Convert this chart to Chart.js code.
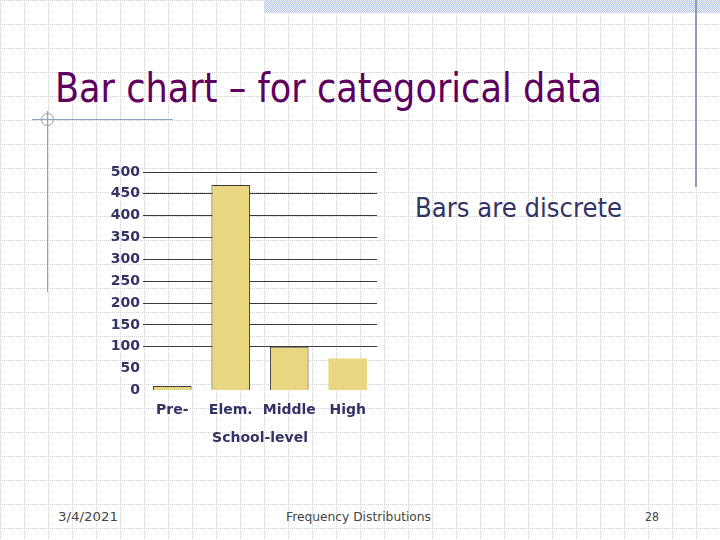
<!DOCTYPE html>
<html>
<head>
<meta charset="utf-8">
<script src="https://cdn.jsdelivr.net/npm/chart.js@4"></script>
<style>
  html, body { margin: 0; padding: 0; }
  body {
    width: 720px; height: 540px; position: relative; overflow: hidden;
    background: #fff url("data:image/svg+xml;utf8,<svg xmlns='http://www.w3.org/2000/svg' width='24' height='24'><path d='M0.5 0V24M0 0.5H24' stroke='%23cfcfcf' stroke-dasharray='1 1'/></svg>");
    font-family: 'DejaVu Sans', sans-serif;
  }
  .abs { position: absolute; white-space: nowrap; transform-origin: 0 0; }
  #band { left: 264px; top: 0; width: 456px; height: 13px;
    background: repeating-conic-gradient(#b9c8e6 0 25%, #eef2fa 0 50%) 0 0 / 2px 2px; }
  #rline { left: 695px; top: 0; width: 2px; height: 187px; background: #8f9bbd; }
  #hline { left: 32px; top: 119px; width: 141px; height: 1px; background: #8fa0c8; }
  #vline { left: 47px; top: 111px; width: 1px; height: 181px; background: #8fa0c8; }
  #circ { left: 41px; top: 113px; width: 13px; height: 13px; border: 1px solid #8fa0c8; border-radius: 50%; box-sizing: border-box; }
  #title { left: 55px; top: 64px; font-size: 41px; line-height: 48px; color: #5e0060; }
  #note { left: 415px; top: 192px; font-size: 26px; line-height: 32px; color: #333366; }
  .foot { top: 508px; font-size: 13px; line-height: 18px; color: #444; }
  #chartbox { position: absolute; left: 90px; top: 160px; }
</style>
</head>
<body>
<div id="band" class="abs"></div>
<div id="rline" class="abs"></div>
<div id="hline" class="abs"></div>
<div id="vline" class="abs"></div>
<div id="circ" class="abs"></div>
<div id="title" class="abs" data-w="547">Bar chart – for categorical data</div>
<div id="note" class="abs" data-w="207">Bars are discrete</div>
<div id="f1" class="abs foot" style="left:58px" data-w="60">3/4/2021</div>
<div id="f2" class="abs foot" style="left:286px" data-w="145">Frequency Distributions</div>
<div id="f3" class="abs foot" style="left:645px" data-w="14">28</div>
<div id="chartbox"><canvas id="c" width="300" height="290"></canvas></div>
<script>
// school level counts
const levels = ['Pre-', 'Elem.', 'Middle', 'High'];
const counts = [10, 470, 100, 73];
const yMin = 0;
const yMax = 500;
const yStep = 50;

// squeeze slide texts to the widths seen on the slide
document.querySelectorAll('[data-w]').forEach(el => {
  const w = el.getBoundingClientRect().width;
  el.style.transform = `scaleX(${parseFloat(el.dataset.w) / w})`;
});

const inkColor = '#333366';
const tickFont = { family: "'DejaVu Sans', sans-serif", size: 14, weight: 'bold' };

new Chart(document.getElementById('c'), {
  type: 'bar',
  data: {
    labels: levels,
    datasets: [{
      data: counts,
      backgroundColor: '#e8d680',
      borderColor: '#3a3a3a',
      borderWidth: [1, 1, 1, 0],
      borderSkipped: 'bottom',
      barPercentage: 0.66,
      categoryPercentage: 1,
    }]
  },
  options: {
    responsive: false,
    animation: false,
    layout: { padding: { top: 12, right: 13, left: 0, bottom: 0 } },
    plugins: { legend: { display: false }, tooltip: { enabled: false } },
    scales: {
      x: {
        grid: { display: false },
        border: { display: false },
        ticks: { color: inkColor, font: tickFont, padding: 4, autoSkip: false, maxRotation: 0, minRotation: 0 },
        title: {
          display: true,
          text: 'School-level',
          color: inkColor,
          font: tickFont,
          padding: { top: 7, bottom: 3 }
        }
      },
      y: {
        min: yMin,
        max: yMax,
        border: { display: false },
        grid: {
          color: ctx => (ctx.tick && ctx.tick.value < 100) ? 'rgba(0,0,0,0)' : '#3a3a3a',
          drawTicks: false,
          lineWidth: 1
        },
        ticks: { stepSize: yStep, autoSkip: false, color: inkColor, font: tickFont, padding: 3 },
        afterFit: s => { s.width = 53; }
      }
    }
  }
});
</script>
</body>
</html>
